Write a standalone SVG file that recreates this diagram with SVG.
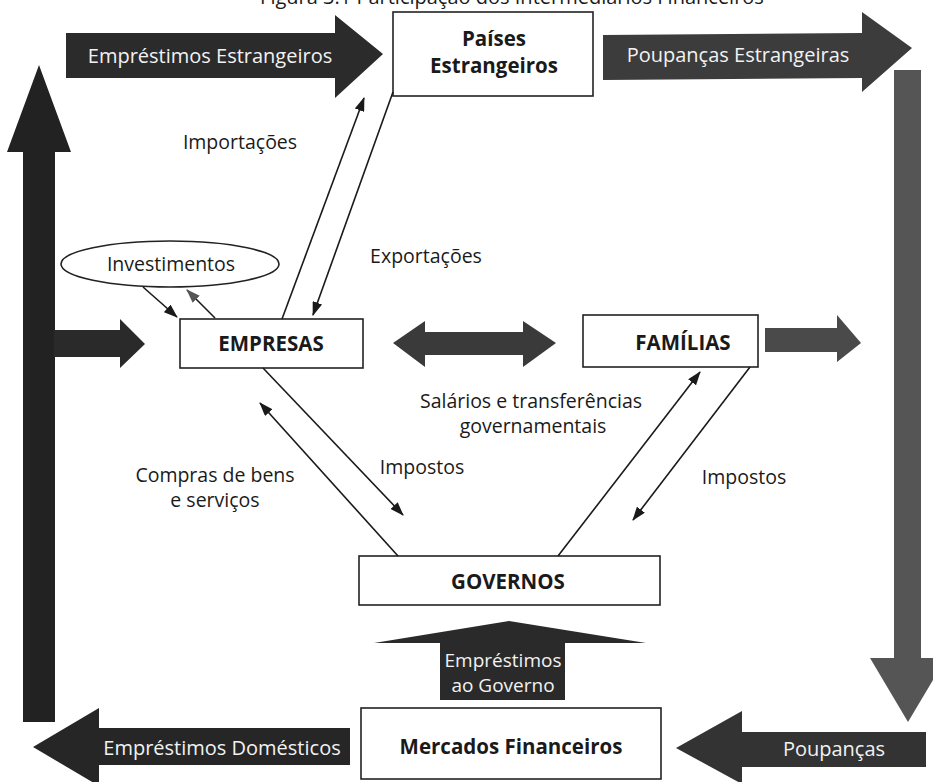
<svg xmlns="http://www.w3.org/2000/svg" width="933" height="782" viewBox="0 0 933 782">
<defs>
<style>
.box{fill:#fff;stroke:#222;stroke-width:1.6}
.nt{font-family:"Open Sans","Noto Sans","DejaVu Sans",sans-serif;font-weight:bold;font-size:20.5px;fill:#1a1a1a;text-anchor:middle}
.lb{font-family:"Open Sans","Noto Sans","DejaVu Sans",sans-serif;font-size:19.5px;fill:#1a1a1a;text-anchor:middle}
.at{font-family:"Open Sans","Noto Sans","DejaVu Sans",sans-serif;font-size:20px;fill:#f2f2f2;text-anchor:middle}
.ln{fill:none;stroke:#1a1a1a;stroke-width:1.6}
</style>
<marker id="ah" viewBox="0 0 14 10" refX="13" refY="5" markerWidth="14" markerHeight="10" markerUnits="userSpaceOnUse" orient="auto">
<path d="M0,0 L14,5 L0,10 Z" fill="#1a1a1a"/>
</marker>
<marker id="ahg" viewBox="0 0 14 10" refX="13" refY="5" markerWidth="14" markerHeight="10" markerUnits="userSpaceOnUse" orient="auto">
<path d="M0,0 L14,5 L0,10 Z" fill="#555"/>
</marker>
</defs>
<rect width="933" height="782" fill="#fff"/>
<text x="512" y="4" class="lb" style="font-size:20px">Figura 3.1 Participação dos Intermediários Financeiros</text>

<g id="flows">
<g id="arrow-emprestimos-estrangeiros">
<path d="M66,33 L335,33 L335,15 L383,54 L335,98 L335,78 L66,78 Z" fill="#2b2b2b"/>
<text x="210" y="63" class="at">Empréstimos Estrangeiros</text>
</g>
<g id="arrow-poupancas-estrangeiras">
<path d="M603,35 L862,33 L862,12 L912,48 L862,92 L862,78 L603,80 Z" fill="#3c3c3c"/>
<text x="738" y="62" class="at">Poupanças Estrangeiras</text>
</g>
<g id="arrow-left-vertical">
<path d="M23,722 L23,152 L7,152 L39,65 L71,152 L55,152 L55,722 Z" fill="#222"/>
</g>
<g id="arrow-left-horizontal">
<path d="M54,330 L120,330 L120,319 L145,344 L120,368 L120,357 L54,357 Z" fill="#2a2a2a"/>
</g>
<g id="arrow-double">
<path d="M393,343 L425,321 L425,332 L523,332 L523,321 L556,343 L523,367 L523,355 L425,355 L425,367 Z" fill="#3a3a3a"/>
</g>
<g id="arrow-familias-right">
<path d="M765,328 L837,328 L837,315 L861,343 L837,362 L837,352 L765,352 Z" fill="#4a4a4a"/>
</g>
<g id="arrow-right-vertical">
<path d="M894,70 L921,70 L921,658 L946,658 L908,722 L870,658 L894,658 Z" fill="#555"/>
</g>
<g id="arrow-poupancas">
<path d="M926,732 L742,732 L742,711 L676,748 L742,784 L742,767 L926,767 Z" fill="#333"/>
<text x="834" y="756" class="at">Poupanças</text>
</g>
<g id="arrow-emprestimos-domesticos">
<path d="M350,728 L99,728 L99,708 L33,747 L99,786 L99,765 L350,765 Z" fill="#262626"/>
<text x="222" y="755" class="at">Empréstimos Domésticos</text>
</g>
<g id="arrow-emprestimos-governo">
<path d="M440,700 L440,643 L374,643 L509,621 L646,643 L565,643 L565,700 Z" fill="#2a2a2a"/>
<text x="503" y="667" class="at" style="font-size:19px">Empréstimos</text>
<text x="503" y="692" class="at" style="font-size:19px">ao Governo</text>
</g>
</g>

<g id="paises-estrangeiros">
<rect x="393" y="12" width="200" height="84" class="box"/>
<text x="494" y="46" class="nt">Países</text>
<text x="494" y="73" class="nt">Estrangeiros</text>
</g>
<g id="investimentos">
<ellipse cx="170" cy="264" rx="109" ry="23" class="box"/>
<text x="171" y="271" class="lb">Investimentos</text>
</g>
<g id="empresas">
<rect x="180" y="319" width="183" height="49" class="box"/>
<text x="271" y="351" class="nt">EMPRESAS</text>
</g>
<g id="familias">
<rect x="583" y="315" width="175" height="52" class="box"/>
<text x="683" y="350" class="nt">FAMÍLIAS</text>
</g>
<g id="governos">
<rect x="359" y="556" width="301" height="49" class="box"/>
<text x="508" y="589" class="nt">GOVERNOS</text>
</g>
<g id="mercados-financeiros">
<rect x="361" y="708" width="300" height="71" class="box"/>
<text x="511" y="754" class="nt">Mercados Financeiros</text>
</g>

<g id="connectors">
<line x1="143" y1="287" x2="177" y2="317" class="ln" marker-end="url(#ah)"/>
<line x1="215" y1="318" x2="187" y2="290" class="ln" marker-end="url(#ahg)"/>
<line x1="282" y1="319" x2="364" y2="98" class="ln" marker-end="url(#ah)"/>
<line x1="393" y1="92" x2="313" y2="315" class="ln" marker-end="url(#ah)"/>
<line x1="263" y1="368" x2="403" y2="515" class="ln" marker-end="url(#ah)"/>
<line x1="398" y1="556" x2="260" y2="403" class="ln" marker-end="url(#ah)"/>
<line x1="558" y1="556" x2="700" y2="372" class="ln" marker-end="url(#ah)"/>
<line x1="750" y1="367" x2="633" y2="520" class="ln" marker-end="url(#ah)"/>
</g>

<g id="labels">
<text x="240" y="149" class="lb">Importações</text>
<text x="426" y="263" class="lb">Exportações</text>
<text x="531" y="408" class="lb">Salários e transferências</text>
<text x="533" y="433" class="lb">governamentais</text>
<text x="422" y="474" class="lb">Impostos</text>
<text x="744" y="484" class="lb">Impostos</text>
<text x="215" y="482" class="lb">Compras de bens</text>
<text x="215" y="507" class="lb">e serviços</text>
</g>
</svg>
